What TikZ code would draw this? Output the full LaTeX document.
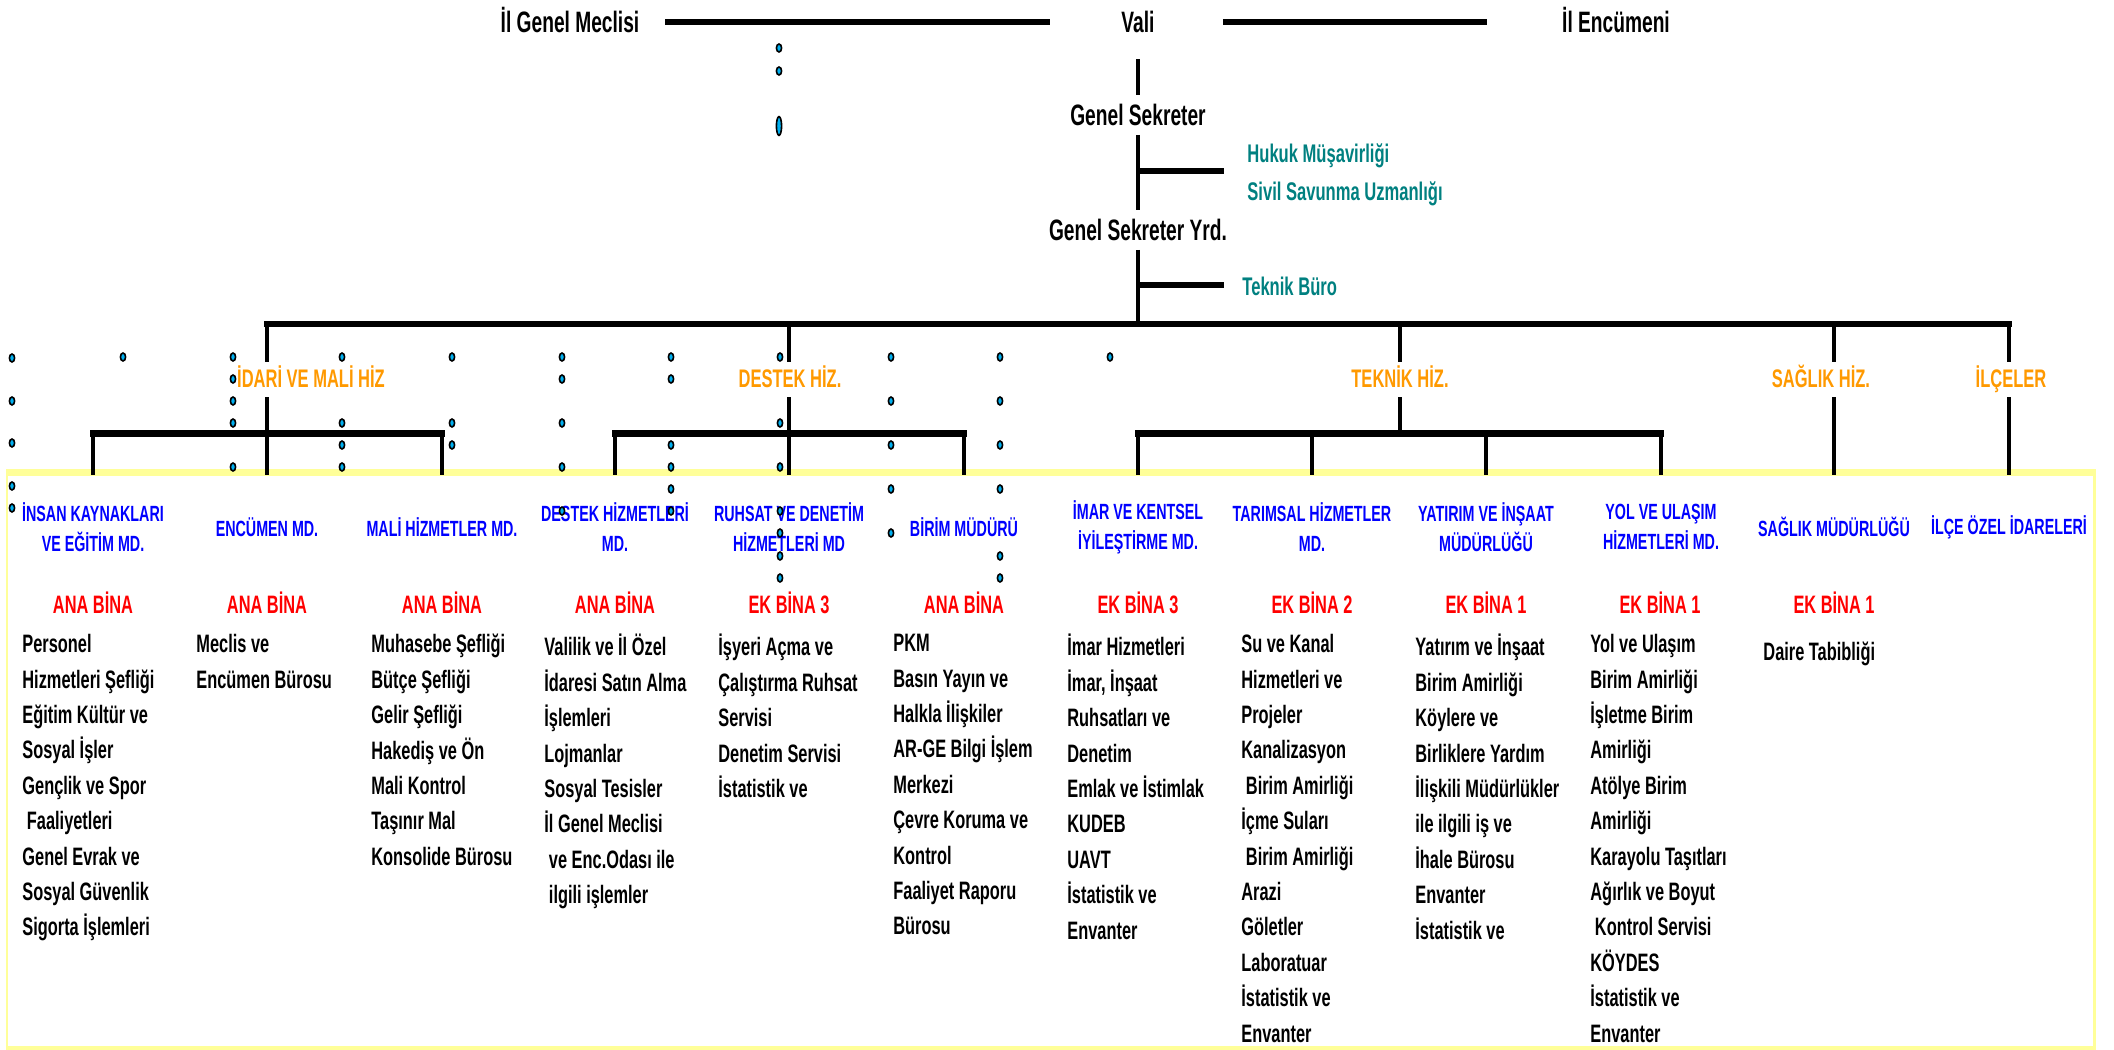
\documentclass[tikz,border=0pt]{standalone}
\usepackage{fontspec}
\setmainfont{Liberation Sans}[FakeStretch=0.65]
\definecolor{sari}{HTML}{FFFF99}
\definecolor{petrol}{HTML}{008080}
\definecolor{turuncu}{HTML}{FF9900}
\definecolor{mavi}{HTML}{0000FF}
\definecolor{kirmizi}{HTML}{FF0000}
\definecolor{camgobegi}{HTML}{00B0F0}

\begin{document}
\begin{tikzpicture}[x=0.5pt, y=-0.5pt,
    hline/.style={line width=3.25pt},
    vline/.style={line width=2.15pt},
    makam/.style={font=\fontsize{14.75}{17}\selectfont\bfseries, text height=10.56pt, text depth=0pt, inner sep=4.5pt},
    buro/.style={text=petrol, font=\fontsize{12.75}{15}\selectfont\bfseries, anchor=base west, inner sep=0pt},
    hizmet/.style={text=turuncu, font=\fontsize{12.7}{15}\selectfont\bfseries, anchor=base, text height=12.5pt, text depth=5pt, inner sep=0pt},
    mudurluk/.style={text=mavi, font=\fontsize{11}{15}\selectfont\bfseries, align=center, minimum height=52pt, inner sep=0pt},
    bina/.style={text=kirmizi, font=\fontsize{12.6}{15}\selectfont\bfseries, anchor=base, inner sep=0pt},
    liste/.style={font=\fontsize{12.6}{17.7}\selectfont\bfseries, align=left, anchor=north west, inner sep=0pt, execute at begin node={\rule{0pt}{13pt}}},
    nokta/.style={draw=black, fill=camgobegi, line width=0.8pt}]
    \useasboundingbox (0,0) rectangle (2114,1049);

    % sari cerceve
    \draw[sari, line width=1.25pt] (7.2,472.5) rectangle (2094.7,1049.5);
    \draw[sari, line width=3.25pt] (6,472.5) -- (2096,472.5) (6,1049.5) -- (2096,1049.5);

    % ust kademe
    \node[makam] (meclis) at (570,22) {İl Genel Meclisi};
    \node[makam] (vali) at (1138,22) {Vali};
    \node[makam] (encumeni) at (1616,22) {İl Encümeni};
    \node[makam] (gs) at (1138,115) {Genel Sekreter};
    \node[makam] (gsy) at (1138,230) {Genel Sekreter Yrd.};
    \node[buro] (hukuk) at (1247,162) {Hukuk Müşavirliği};
    \node[buro] (sivil) at (1247,200) {Sivil Savunma Uzmanlığı};
    \node[buro] (teknikburo) at (1242,295) {Teknik Büro};

    \draw[hline, shorten <=8.35pt, shorten >=31pt] (meclis) -- (vali);
    \draw[hline, shorten <=29.5pt, shorten >=33.1pt] (vali) -- (encumeni);
    \draw[vline, shorten <=8.75pt] (vali) -- (gs);
    \draw[vline] (gs) -- (gsy);
    \coordinate (dal1) at (1138,171);
    \coordinate (dal1uc) at (1224,171);
    \coordinate (dal2) at (1138,285);
    \coordinate (dal2uc) at (1224,285);
    \draw[hline] (dal1) -- (dal1uc);
    \draw[hline] (dal2) -- (dal2uc);

    % hizmet gruplari
    \node[hizmet] (idari) at (311,387) {İDARİ VE MALİ HİZ};
    \node[hizmet] (destek) at (790,387) {DESTEK HİZ.};
    \node[hizmet] (teknik) at (1400,387) {TEKNİK HİZ.};
    \node[hizmet] (saglikhiz) at (1821,387) {SAĞLIK HİZ.};
    \node[hizmet] (ilceler) at (2011,387) {İLÇELER};

    % mudurlukler
    \node[mudurluk] (ik) at (93,527) {İNSAN KAYNAKLARI\\VE EĞİTİM MD.};
    \node[mudurluk] (encumen) at (267,527) {ENCÜMEN MD.};
    \node[mudurluk] (mali) at (442,527) {MALİ HİZMETLER MD.};
    \node[mudurluk] (destekmd) at (615,527) {DESTEK HİZMETLERİ\\MD.};
    \node[mudurluk] (ruhsat) at (789,527) {RUHSAT VE DENETİM\\HİZMETLERİ MD};
    \node[mudurluk] (birim) at (964,527) {BİRİM MÜDÜRÜ};
    \node[mudurluk] (imar) at (1138,527) {İMAR VE KENTSEL\\İYİLEŞTİRME MD.};
    \node[mudurluk] (tarim) at (1312,527) {TARIMSAL HİZMETLER\\MD.};
    \node[mudurluk] (yatirim) at (1486,527) {YATIRIM VE İNŞAAT\\MÜDÜRLÜĞÜ};
    \node[mudurluk] (yol) at (1661,527) {YOL VE ULAŞIM\\HİZMETLERİ MD.};
    \node[mudurluk] (saglikmd) at (1834,527) {SAĞLIK MÜDÜRLÜĞÜ};
    \node[mudurluk] (ilce) at (2009,527) {İLÇE ÖZEL İDARELERİ};

    % baglantilar
    \coordinate (ana) at (1138,324);
    \coordinate (alt) at (1138,433.5);
    \draw[vline] (gsy) -- (ana);
    \draw[hline, line cap=rect] (encumen.north |- ana) -- (ilce.north |- ana);
    \draw[vline] (encumen.north |- ana) -- (encumen.north |- idari.north);
    \draw[vline] (encumen.north |- idari.south) -- (encumen.north);
    \draw[hline, line cap=rect] (ik.north |- alt) -- (mali.north |- alt);
    \draw[vline] (ik.north |- alt) -- (ik.north);
    \draw[vline] (mali.north |- alt) -- (mali.north);
    \draw[vline] (ruhsat.north |- ana) -- (ruhsat.north |- destek.north);
    \draw[vline] (ruhsat.north |- destek.south) -- (ruhsat.north);
    \draw[hline, line cap=rect] (destekmd.north |- alt) -- (birim.north |- alt);
    \draw[vline] (destekmd.north |- alt) -- (destekmd.north);
    \draw[vline] (birim.north |- alt) -- (birim.north);
    \draw[vline] (teknik.north |- ana) -- (teknik.north);
    \draw[vline] (teknik.south) -- (teknik.south |- alt);
    \draw[hline, line cap=rect] (imar.north |- alt) -- (yol.north |- alt);
    \draw[vline] (imar.north |- alt) -- (imar.north);
    \draw[vline] (tarim.north |- alt) -- (tarim.north);
    \draw[vline] (yatirim.north |- alt) -- (yatirim.north);
    \draw[vline] (yol.north |- alt) -- (yol.north);
    \draw[vline] (saglikmd.north |- ana) -- (saglikmd.north |- saglikhiz.north);
    \draw[vline] (saglikmd.north |- saglikhiz.south) -- (saglikmd.north);
    \draw[vline] (ilce.north |- ana) -- (ilce.north |- ilceler.north);
    \draw[vline] (ilce.north |- ilceler.south) -- (ilce.north);

    % binalar
    \node[bina] (bina1) at (93,613) {ANA BİNA};
    \node[bina] (bina2) at (267,613) {ANA BİNA};
    \node[bina] (bina3) at (442,613) {ANA BİNA};
    \node[bina] (bina4) at (615,613) {ANA BİNA};
    \node[bina] (bina5) at (789,613) {EK BİNA 3};
    \node[bina] (bina6) at (964,613) {ANA BİNA};
    \node[bina] (bina7) at (1138,613) {EK BİNA 3};
    \node[bina] (bina8) at (1312,613) {EK BİNA 2};
    \node[bina] (bina9) at (1486,613) {EK BİNA 1};
    \node[bina] (bina10) at (1660,613) {EK BİNA 1};
    \node[bina] (bina11) at (1834,613) {EK BİNA 1};

    % birimler
    \node[liste] (liste1) at (22,634) {Personel\\Hizmetleri Şefliği\\Eğitim Kültür ve\\Sosyal İşler\\Gençlik ve Spor\\\ Faaliyetleri\\Genel Evrak ve\\Sosyal Güvenlik\\Sigorta İşlemleri};
    \node[liste] (liste2) at (196,634) {Meclis ve\\Encümen Bürosu};
    \node[liste] (liste3) at (371,634) {Muhasebe Şefliği\\Bütçe Şefliği\\Gelir Şefliği\\Hakediş ve Ön\\Mali Kontrol\\Taşınır Mal\\Konsolide Bürosu};
    \node[liste] (liste4) at (544,634) {Valilik ve İl Özel\\İdaresi Satın Alma\\İşlemleri\\Lojmanlar\\Sosyal Tesisler\\İl Genel Meclisi\\\ ve Enc.Odası ile\\\ ilgili işlemler};
    \node[liste] (liste5) at (718,634) {İşyeri Açma ve\\Çalıştırma Ruhsat\\Servisi\\Denetim Servisi\\İstatistik ve};
    \node[liste] (liste6) at (893,634) {PKM\\Basın Yayın ve\\Halkla İlişkiler\\AR-GE Bilgi İşlem\\Merkezi\\Çevre Koruma ve\\Kontrol\\Faaliyet Raporu\\Bürosu};
    \node[liste] (liste7) at (1067,634) {İmar Hizmetleri\\İmar, İnşaat\\Ruhsatları ve\\Denetim\\Emlak ve İstimlak\\KUDEB\\UAVT\\İstatistik ve\\Envanter};
    \node[liste] (liste8) at (1241,634) {Su ve Kanal\\Hizmetleri ve\\Projeler\\Kanalizasyon\\\ Birim Amirliği\\İçme Suları\\\ Birim Amirliği\\Arazi\\Göletler\\Laboratuar\\İstatistik ve\\Envanter};
    \node[liste] (liste9) at (1415,634) {Yatırım ve İnşaat\\Birim Amirliği\\Köylere ve\\Birliklere Yardım\\İlişkili Müdürlükler\\ile ilgili iş ve\\İhale Bürosu\\Envanter\\İstatistik ve};
    \node[liste] (liste10) at (1590,634) {Yol ve Ulaşım\\Birim Amirliği\\İşletme Birim\\Amirliği\\Atölye Birim\\Amirliği\\Karayolu Taşıtları\\Ağırlık ve Boyut\\\ Kontrol Servisi\\KÖYDES\\İstatistik ve\\Envanter};
    \node[liste] (liste11) at (1763,634) {Daire Tabibliği};

    % noktalar
    \draw[nokta] (779,48) ellipse (1.3pt and 2pt) (779,71) ellipse (1.3pt and 2pt) (779,126) ellipse (1.3pt and 4.7pt);
    \draw[nokta] (12,358) ellipse (1.3pt and 2pt) (12,401) ellipse (1.3pt and 2pt) (12,443) ellipse (1.3pt and 2pt) (12,486) ellipse (1.3pt and 2pt) (12,508) ellipse (1.3pt and 2pt);
    \draw[nokta] (123,357) ellipse (1.3pt and 2pt);
    \draw[nokta] (233,357) ellipse (1.3pt and 2pt) (233,379) ellipse (1.3pt and 2pt) (233,401) ellipse (1.3pt and 2pt) (233,423) ellipse (1.3pt and 2pt) (233,467) ellipse (1.3pt and 2pt);
    \draw[nokta] (342,357) ellipse (1.3pt and 2pt) (342,423) ellipse (1.3pt and 2pt) (342,445) ellipse (1.3pt and 2pt) (342,467) ellipse (1.3pt and 2pt);
    \draw[nokta] (452,357) ellipse (1.3pt and 2pt) (452,423) ellipse (1.3pt and 2pt) (452,445) ellipse (1.3pt and 2pt);
    \draw[nokta] (562,357) ellipse (1.3pt and 2pt) (562,379) ellipse (1.3pt and 2pt) (562,423) ellipse (1.3pt and 2pt) (562,467) ellipse (1.3pt and 2pt) (562,511) ellipse (1.3pt and 2pt);
    \draw[nokta] (671,357) ellipse (1.3pt and 2pt) (671,379) ellipse (1.3pt and 2pt) (671,445) ellipse (1.3pt and 2pt) (671,467) ellipse (1.3pt and 2pt) (671,489) ellipse (1.3pt and 2pt) (671,511) ellipse (1.3pt and 2pt);
    \draw[nokta] (780,357) ellipse (1.3pt and 2pt) (780,423) ellipse (1.3pt and 2pt) (780,467) ellipse (1.3pt and 2pt) (780,511) ellipse (1.3pt and 2pt) (780,533) ellipse (1.3pt and 2pt) (780,556) ellipse (1.3pt and 2pt) (780,578) ellipse (1.3pt and 2pt);
    \draw[nokta] (891,357) ellipse (1.3pt and 2pt) (891,401) ellipse (1.3pt and 2pt) (891,445) ellipse (1.3pt and 2pt) (891,489) ellipse (1.3pt and 2pt) (891,533) ellipse (1.3pt and 2pt);
    \draw[nokta] (1000,357) ellipse (1.3pt and 2pt) (1000,401) ellipse (1.3pt and 2pt) (1000,445) ellipse (1.3pt and 2pt) (1000,489) ellipse (1.3pt and 2pt) (1000,556) ellipse (1.3pt and 2pt) (1000,578) ellipse (1.3pt and 2pt);
    \draw[nokta] (1110,357) ellipse (1.3pt and 2pt);
\end{tikzpicture}
\end{document}
